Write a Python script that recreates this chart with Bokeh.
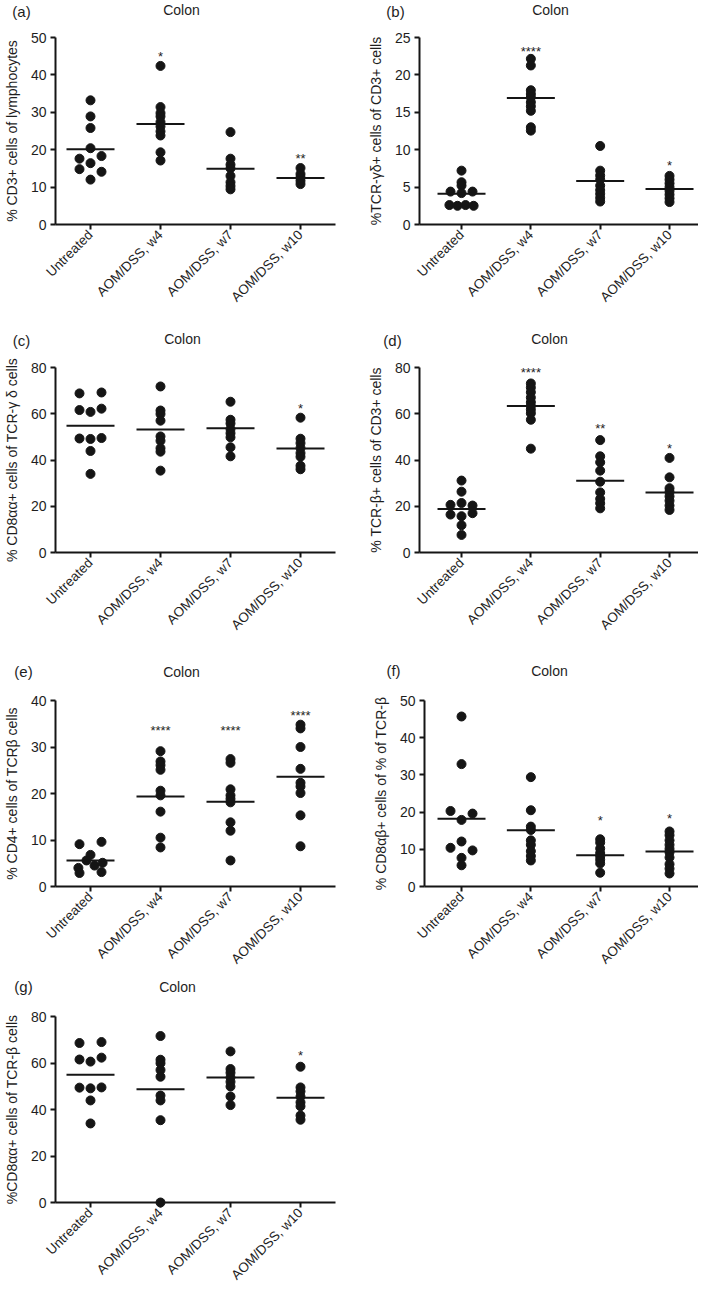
import math
from bokeh.plotting import figure
from bokeh.layouts import column, row
from bokeh.models import Range1d, FixedTicker, Label
from bokeh.core.properties import value
from bokeh.embed import file_html
from bokeh.resources import INLINE

# ---------------- data ----------------
categories = ["Untreated", "AOM/DSS, w4", "AOM/DSS, w7", "AOM/DSS, w10"]

# (a) % CD3+ cells of lymphocytes
a_untreated = [33.2, 28.9, 25.8, 20.4, 17.6, 18.3, 16.4, 14.8, 14.1, 12.0]
a_w4 = [42.4, 31.4, 29.8, 28.9, 27.4, 26.2, 24.9, 23.8, 19.3, 17.1]
a_w7 = [24.7, 17.6, 16.0, 15.0, 13.0, 11.3, 10.3, 9.4]
a_w10 = [15.1, 13.5, 12.6, 11.7, 10.8]
a_means = [20.1, 26.9, 14.9, 12.4]
a_sig = ["", "*", "", "**"]
a_sig_y = [0, 45.9, 0, 18.7]

# (b) %TCR-γδ+ cells of CD3+ cells
b_untreated = [7.2, 5.65, 5.2, 4.4, 4.2, 4.4, 2.6, 2.5, 2.6, 2.5]
b_w4 = [22.15, 21.26, 17.95, 17.45, 17.0, 16.35, 15.8, 15.2, 13.0, 12.55]
b_w7 = [10.5, 7.2, 6.55, 6.0, 5.2, 4.6, 4.1, 3.57, 3.07]
b_w10 = [6.5, 6.0, 5.5, 5.0, 4.5, 4.0, 3.5, 3.0]
b_means = [4.1, 16.9, 5.8, 4.75]
b_sig = ["", "****", "", "*"]
b_sig_y = [0, 23.7, 0, 8.4]

# (c) % CD8αα+ cells of TCR-γδ cells
c_untreated = [68.8, 69.2, 61.6, 60.8, 62.2, 49.3, 49.1, 49.5, 43.9, 34.0]
c_w4 = [71.8, 61.4, 59.9, 57.0, 50.2, 48.3, 45.1, 43.6, 35.4]
c_w7 = [65.2, 57.4, 55.8, 53.4, 51.6, 49.8, 45.5, 41.6]
c_w10 = [58.3, 49.2, 47.3, 45.2, 43.0, 41.4, 37.5, 36.0]
c_means = [54.8, 53.2, 53.7, 45.0]
c_sig = ["", "", "", "*"]
c_sig_y = [0, 0, 0, 63.9]

# (d) % TCR-β+ cells of CD3+ cells
d_untreated = [31.1, 26.3, 20.6, 21.4, 20.3, 16.4, 15.7, 17.0, 11.8, 7.6]
d_w4 = [73.1, 71.3, 69.3, 67.0, 65.0, 63.4, 61.8, 60.2, 57.4, 44.9]
d_w7 = [48.6, 41.6, 39.0, 35.4, 30.6, 26.0, 23.2, 21.3, 19.1]
d_w10 = [40.9, 32.5, 27.8, 26.2, 24.3, 22.4, 20.3, 18.4]
d_means = [18.8, 63.3, 31.0, 25.9]
d_sig = ["", "****", "**", "*"]
d_sig_y = [0, 79.6, 55.2, 46.6]

# (e) % CD4+ cells of TCRβ cells
e_untreated = [9.1, 9.6, 6.8, 4.0, 5.6, 4.5, 5.1, 2.9, 3.1]
e_w4 = [29.1, 26.9, 26.1, 25.1, 20.6, 19.6, 16.1, 10.5, 8.4]
e_w7 = [27.4, 26.6, 20.9, 19.6, 18.85, 18.1, 13.8, 12.0, 5.6]
e_w10 = [34.8, 34.0, 30.0, 25.3, 22.3, 21.5, 20.1, 15.3, 8.65]
e_means = [5.6, 19.35, 18.2, 23.6]
e_sig = ["", "****", "****", "****"]
e_sig_y = [0, 34.4, 34.4, 37.6]

# (f) % CD8αβ+ cells of % of TCR-β
f_untreated = [45.7, 32.9, 20.3, 19.6, 17.9, 12.1, 10.4, 9.7, 7.7, 5.7]
f_w4 = [29.4, 20.5, 16.1, 15.2, 12.4, 11.2, 9.5, 8.2, 7.0]
f_w7 = [12.7, 11.8, 10.2, 9.0, 8.1, 7.2, 6.2, 3.7]
f_w10 = [14.8, 13.8, 12.4, 11.2, 10.1, 9.2, 7.8, 6.0, 4.8, 3.5]
f_means = [18.2, 15.1, 8.4, 9.4]
f_sig = ["", "", "*", "*"]
f_sig_y = [0, 0, 18.8, 19.3]

# (g) %CD8αα+ cells of TCR-β cells
g_untreated = [68.6, 69.0, 61.5, 60.6, 62.3, 49.4, 49.1, 49.5, 43.9, 34.0]
g_w4 = [71.6, 61.4, 59.9, 57.0, 54.1, 46.0, 43.9, 35.4, 0.0]
g_w7 = [65.0, 57.4, 55.8, 53.8, 51.9, 49.9, 45.6, 41.9]
g_w10 = [58.4, 49.5, 47.8, 45.6, 43.1, 41.4, 37.4, 35.6]
g_means = [54.9, 48.7, 53.8, 45.1]
g_sig = ["", "", "", "*"]
g_sig_y = [0, 0, 0, 65.0]

# ---------------- styling ----------------
FONT = "Liberation Sans"
INK = "#151515"
TXT = "#1e1e1e"
TITLE_PANEL_H = 16   # height taken by the "Colon" label panel above the frame


def swarm_offsets(vals, px_per_y, thr=3.2, spread=11.0):
    """Pixel x-offsets: points closer than thr px vertically are spread sideways."""
    order = sorted(range(len(vals)), key=lambda i: -vals[i])
    clusters = []
    for i in order:
        if clusters and (vals[clusters[-1][-1]] - vals[i]) * px_per_y < thr:
            clusters[-1].append(i)
        else:
            clusters.append([i])
    offs = [0.0] * len(vals)
    for c in clusters:
        n = len(c)
        if n == 1:
            continue
        half = spread if n <= 3 else spread * 1.1
        for k, i in enumerate(sorted(c)):
            offs[i] = -half + 2 * half * k / (n - 1)
    return offs


def make_panel(letter, groups, means, sig, sig_y, ylabel, cfg):
    x0, x1 = cfg["xr"]
    fw, fh = cfg["fw"], cfg["fh"]
    y_end, y_step = cfg["yr"]
    p = figure(frame_width=fw, frame_height=fh,
               x_range=Range1d(x0, x1), y_range=Range1d(0, y_end),
               output_backend="svg", toolbar_location=None, title=None,
               min_border_left=cfg["bl"], min_border_right=cfg["br"],
               min_border_top=cfg["bt"], min_border_bottom=cfg["bb"])
    p.outline_line_color = None
    p.xgrid.grid_line_color = None
    p.ygrid.grid_line_color = None
    p.background_fill_color = "white"
    p.border_fill_color = "white"

    ppx = fw / (x1 - x0)
    ppy = fh / y_end

    xs, ys = [], []
    for gi, vals in enumerate(groups):
        offs = swarm_offsets(vals, ppy)
        for v, o in zip(vals, offs):
            xs.append(gi + o / ppx)
            ys.append(v)
    p.scatter(x=xs, y=ys, size=9, marker="circle", fill_color=INK,
              line_color=INK, level="annotation")

    half = 24.0 / ppx
    p.segment(x0=[i - half for i in range(len(means))], y0=means,
              x1=[i + half for i in range(len(means))], y1=means,
              line_width=2, line_color=INK, level="annotation")

    sx = [i for i, s in enumerate(sig) if s]
    sy = [sig_y[i] for i in sx]
    st = [sig[i] for i in sx]
    if sx:
        p.text(x=sx, y=sy, text=st, text_font=value(FONT),
               text_font_size=value("13px"), text_align="center",
               text_baseline="middle", y_offset=4, text_color=TXT,
               level="annotation")

    for ax in (p.xaxis[0], p.yaxis[0]):
        ax.axis_line_width = 2
        ax.axis_line_color = INK
        ax.major_tick_line_width = 2
        ax.major_tick_line_color = INK
        ax.major_tick_out = 5
        ax.major_tick_in = 0
        ax.minor_tick_line_color = None
        ax.major_label_text_font = FONT
        ax.major_label_text_font_size = "14px"
        ax.major_label_text_color = TXT
        ax.major_label_standoff = 4
    p.xaxis.major_label_text_font_size = "13.5px"
    p.xaxis.major_label_standoff = 3

    p.xaxis.ticker = FixedTicker(ticks=list(range(len(categories))))
    p.xaxis.major_label_overrides = {i: c for i, c in enumerate(categories)}
    p.xaxis.major_label_orientation = math.pi / 4
    p.yaxis.ticker = FixedTicker(ticks=list(range(0, y_end + 1, y_step)))
    p.yaxis.axis_label = ylabel
    p.yaxis.axis_label_text_font = FONT
    p.yaxis.axis_label_text_font_size = "14px"
    p.yaxis.axis_label_text_font_style = "normal"
    p.yaxis.axis_label_text_color = TXT
    p.yaxis.axis_label_standoff = 8

    # panel title and letter, in border panels above the frame
    tdx, tdy = cfg["title"]
    p.add_layout(Label(x=tdx, y=tdy, x_units="screen", y_units="screen",
                       text="Colon", text_align="center", text_baseline="middle",
                       text_font=FONT, text_font_size="14px", text_color=TXT), "above")
    ldx, ldy = cfg["letter"]
    p.add_layout(Label(x=ldx, y=ldy - TITLE_PANEL_H, x_units="screen", y_units="screen",
                       text=letter, text_align="center", text_baseline="middle",
                       text_font=FONT, text_font_size="15px", text_color=TXT), "above")
    return p


LEFT = dict(xr=(-0.5, 3.5), fw=280, bl=50, br=16)
RIGHT = dict(xr=(-0.606, 3.418), fw=279, bl=68, br=0)
RIGHT_F = dict(xr=(-0.534, 3.418), fw=274, bl=73, br=0)

pa = make_panel("(a)", [a_untreated, a_w4, a_w7, a_w10], a_means, a_sig, a_sig_y,
                "% CD3+ cells of lymphocytes",
                dict(LEFT, fh=187, bt=37, bb=96, yr=(50, 10), title=(126, 28), letter=(-34, 26)))
pb = make_panel("(b)", [b_untreated, b_w4, b_w7, b_w10], b_means, b_sig, b_sig_y,
                "%TCR-γδ+ cells of CD3+ cells",
                dict(RIGHT, fh=187, bt=37, bb=96, yr=(25, 5), title=(131, 28), letter=(-24, 26)))
pc = make_panel("(c)", [c_untreated, c_w4, c_w7, c_w10], c_means, c_sig, c_sig_y,
                "% CD8αα+ cells of TCR-γ δ cells",
                dict(LEFT, fh=185, bt=47, bb=93, yr=(80, 20), title=(127, 29), letter=(-34, 27)))
pd_ = make_panel("(d)", [d_untreated, d_w4, d_w7, d_w10], d_means, d_sig, d_sig_y,
                 "% TCR-β+ cells of CD3+ cells",
                 dict(RIGHT, fh=185, bt=47, bb=93, yr=(80, 20), title=(130, 29), letter=(-27, 27)))
pe = make_panel("(e)", [e_untreated, e_w4, e_w7, e_w10], e_means, e_sig, e_sig_y,
                "% CD4+ cells of TCRβ cells",
                dict(LEFT, fh=186, bt=55, bb=90, yr=(40, 10), title=(126, 29), letter=(-32, 29)))
pf = make_panel("(f)", [f_untreated, f_w4, f_w7, f_w10], f_means, f_sig, f_sig_y,
                "% CD8αβ+ cells of % of TCR-β",
                dict(RIGHT_F, fh=186, bt=55, bb=90, yr=(50, 10), title=(125, 30), letter=(-31, 30)))
pg = make_panel("(g)", [g_untreated, g_w4, g_w7, g_w10], g_means, g_sig, g_sig_y,
                "%CD8αα+ cells of TCR-β cells",
                dict(LEFT, fh=186, bt=40, bb=90, yr=(80, 20), title=(122, 30), letter=(-32, 30)))

layout = column(row(pa, pb), row(pc, pd_), row(pe, pf), row(pg))

open("out.html", "w").write(file_html(layout, INLINE))
